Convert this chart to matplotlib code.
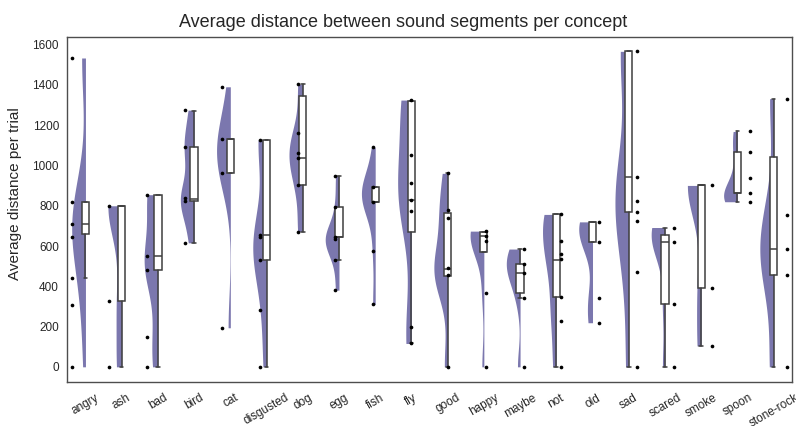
import numpy as np
import matplotlib
matplotlib.use('Agg')
import matplotlib.pyplot as plt
import seaborn as sns

concepts = ['angry', 'ash', 'bad', 'bird', 'cat', 'disgusted', 'dog', 'egg', 'fish', 'fly',
            'good', 'happy', 'maybe', 'not', 'old', 'sad', 'scared', 'smoke', 'spoon', 'stone-rock']

point_vals = [
    [0, 306, 439, 644, 709, 820, 1534],
    [0, 326, 800],
    [0, 146, 480, 548, 855],
    [616, 825, 840, 1090, 1275],
    [194, 961, 1131, 1391],
    [0, 282, 533, 646, 654, 1126],
    [672, 901, 1035, 1060, 1159, 1403],
    [381, 533, 633, 643, 792, 947],
    [310, 575, 820, 894, 1090],
    [116, 199, 775, 831, 914, 1052, 1325],
    [0, 455, 489, 740, 778, 961],
    [0, 368, 626, 649, 674],
    [0, 340, 464, 513, 585],
    [0, 227, 348, 538, 560, 626, 757],
    [219, 343, 619, 720],
    [0, 472, 722, 770, 825, 942, 1567],
    [0, 311, 621, 692],
    [104, 393, 901],
    [820, 861, 937, 1068, 1169],
    [0, 455, 583, 754, 1332],
]
point_counts = [
    [1, 1, 1, 2, 3, 2, 2],
    [1, 1, 3],
    [1, 1, 2, 2, 3],
    [1, 2, 1, 2, 1],
    [1, 3, 4, 1],
    [1, 1, 2, 2, 1, 3],
    [1, 1, 1, 1, 1, 1],
    [1, 1, 2, 2, 1, 1],
    [1, 1, 3, 3, 1],
    [1, 1, 1, 2, 1, 1, 3],
    [1, 2, 2, 1, 1, 1],
    [1, 1, 2, 2, 3],
    [1, 1, 2, 2, 2],
    [1, 1, 1, 1, 1, 1, 3],
    [1, 1, 2, 3],
    [1, 1, 1, 1, 1, 2, 3],
    [1, 1, 3, 3],
    [1, 1, 4],
    [2, 2, 1, 1, 1],
    [1, 1, 2, 1, 1],
]

# box statistics
q1 = [659, 326, 480, 825, 961, 533, 901, 643, 820, 671, 451, 568, 368, 348, 619, 770, 311, 393, 861, 455]
med = [709, 800, 548, 833, 1131, 654, 1035, 643, 820, 831, 484, 649, 464, 533, 720, 942, 621, 901, 861, 583]
q3 = [820, 800, 851, 1090, 1131, 1126, 1343, 795, 894, 1322, 762, 671, 513, 757, 720, 1567, 654, 901, 1068, 1043]
whislo = [439, 0, 0, 616, 961, 0, 672, 533, 820, 116, 0, 568, 340, 0, 619, 0, 0, 104, 820, 0]
whishi = [820, 800, 851, 1272, 1131, 1126, 1403, 947, 894, 1322, 961, 671, 585, 757, 720, 1567, 692, 901, 1169, 1332]

sns.set_style('white')
plt.rcParams['font.family'] = ['Liberation Sans', 'DejaVu Sans']

violin_col = '#7b77ae'
line_col = '#3f3f3f'

fig = plt.figure(figsize=(7.96, 4.26), dpi=100)
ax = fig.add_axes([0.0846, 0.103, 0.910, 0.810])

# half violins (left side), kde cut at the data range
bw_factor = 0.5
for i, (v, c) in enumerate(zip(point_vals, point_counts)):
    v = np.array(v, dtype=float)
    c = np.array(c, dtype=float)
    mean = np.sum(v * c) / c.sum()
    h = bw_factor * np.sqrt(np.sum(c * (v - mean) ** 2) / c.sum())
    yy = np.linspace(v.min(), v.max(), 300)
    dens = np.sum(c[None, :] * np.exp(-0.5 * ((yy[:, None] - v[None, :]) / h) ** 2), axis=1)
    w = dens / dens.max() * 0.38
    ax.fill_betweenx(yy, i - w, i, color=violin_col, lw=0, zorder=1)

stats = []
for i in range(len(concepts)):
    stats.append(dict(q1=q1[i], med=med[i], q3=q3[i], whislo=whislo[i], whishi=whishi[i]))
ax.bxp(stats, positions=range(len(concepts)), widths=0.2, showfliers=False, patch_artist=True,
       boxprops=dict(facecolor='white', edgecolor=line_col, lw=1.1),
       whiskerprops=dict(color=line_col, lw=1.1), capprops=dict(color=line_col, lw=1.1),
       medianprops=dict(color=line_col, lw=1.1), capwidths=0.1, manage_ticks=False, zorder=2)

# rain: the dots drift from left of the box to right of it across the plot
for i, v in enumerate(point_vals):
    xpos = 1.04 * i - 0.38
    ax.scatter(np.full(len(v), xpos), v, s=7, c='black', linewidths=0, zorder=4)

ax.set_xlim(-0.5, len(concepts) - 0.5)
ax.set_ylim(-76, 1638)
ax.set_xticks(range(len(concepts)))
ax.set_xticklabels(concepts, rotation=30, ha='center', fontsize=8.5)
ax.set_yticks(range(0, 1601, 200))
ax.tick_params(axis='y', labelsize=8.5, length=0, pad=6)
ax.tick_params(axis='x', length=0, pad=7)
for s in ax.spines.values():
    s.set_color('#4d4d4d')
    s.set_linewidth(1.0)

ax.set_ylabel('Average distance per trial', fontsize=11)
ax.yaxis.set_label_coords(-0.0625, 0.545)
fig.suptitle('Average distance between sound segments per concept', x=0.506, y=0.948,
             va='center', fontsize=13)

plt.savefig('out.png', dpi=100)
